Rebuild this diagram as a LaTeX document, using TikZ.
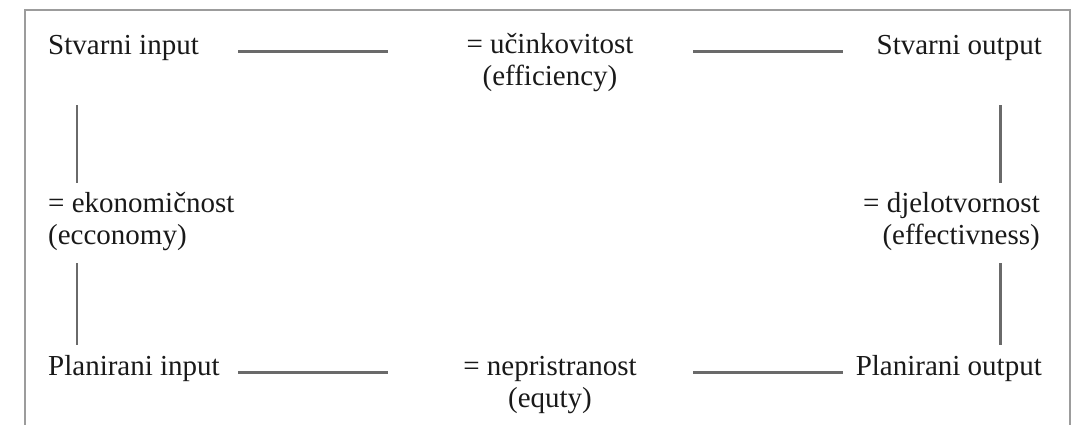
\documentclass[tikz,border=0pt]{standalone}
\usepackage{fontspec}
\setmainfont{Liberation Serif}
\definecolor{framegray}{HTML}{9C9C9C}
\definecolor{linegray}{HTML}{6A6A6A}
\tikzset{
  lbl/.style={inner sep=0pt, font=\fontsize{29}{31.5}\selectfont, text=black!90},
  conn/.style={draw=linegray, line width=2.8pt},
  frame/.style={draw=framegray, line width=2.2pt}
}
\begin{document}
\begin{tikzpicture}[x=1pt,y=-1pt]
\useasboundingbox (0,0) rectangle (1075,424);
% open frame round the scheme
\draw[frame] (25,430) -- (25,10) -- (1070,10) -- (1070,430);

% corner labels
\node[lbl, anchor=base west] (si) at (48,54) {Stvarni input};
\node[lbl, anchor=base east] (so) at (1042,54) {Stvarni output};
\node[lbl, anchor=base west] (pi) at (48,375) {Planirani input};
\node[lbl, anchor=base east] (po) at (1042,375) {Planirani output};

% relation labels (anchored on the baseline of their second line)
\node[lbl, anchor=base, align=center] (eff) at (550,85) {= učinkovitost\\(efficiency)};
\node[lbl, anchor=base, align=center] (equ) at (550,407) {= nepristranost\\(equty)};
\node[lbl, anchor=base west, align=left] (eco) at (48,244) {= ekonomičnost\\(ecconomy)};
\node[lbl, anchor=base east, align=right] (efv) at (1040,244) {= djelotvornost\\(effectivness)};

% line end points
\coordinate (t1a) at (238,51.7); \coordinate (t1b) at (388,51.7);
\coordinate (t2a) at (693,51.7); \coordinate (t2b) at (843,51.7);
\coordinate (b1a) at (238,372.3); \coordinate (b1b) at (388,372.3);
\coordinate (b2a) at (693,372.3); \coordinate (b2b) at (843,372.3);
\coordinate (l1a) at (77,105); \coordinate (l1b) at (77,183);
\coordinate (l2a) at (77,263); \coordinate (l2b) at (77,345);
\coordinate (r1a) at (1000.3,105); \coordinate (r1b) at (1000.3,183);
\coordinate (r2a) at (1000.3,263); \coordinate (r2b) at (1000.3,345);

% connectors
\draw[conn] (t1a) -- (t1b);
\draw[conn] (t2a) -- (t2b);
\draw[conn] (b1a) -- (b1b);
\draw[conn] (b2a) -- (b2b);
\draw[conn] (l1a) -- (l1b);
\draw[conn] (l2a) -- (l2b);
\draw[conn] (r1a) -- (r1b);
\draw[conn] (r2a) -- (r2b);
\end{tikzpicture}
\end{document}
